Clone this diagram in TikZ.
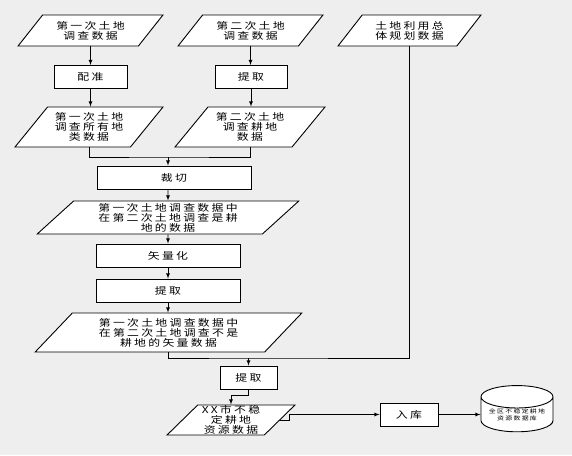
\documentclass[tikz,border=0pt]{standalone}
\usepackage{fontspec}
\newfontfamily\cjk[FakeStretch=1.25,LetterSpace=24]{Noto Sans CJK SC}
\usetikzlibrary{shapes.geometric}
\definecolor{bg}{HTML}{EEEEEE}

\begin{document}
\begin{tikzpicture}[x=1pt,y=-1pt,>=latex,
  data/.style={trapezium,trapezium left angle=47,trapezium right angle=133,
    trapezium stretches=true,draw,fill=white,line width=0.9pt,align=center,
    font=\cjk\fontsize{9.5}{10}\selectfont,inner sep=0pt},
  proc/.style={rectangle,draw,fill=white,line width=0.9pt,minimum height=23,
    font=\cjk\fontsize{9.5}{10}\selectfont,inner sep=0pt},
  store/.style={cylinder,shape border rotate=90,aspect=0.4,draw,fill=white,
    line width=0.9pt,align=center,font=\cjk\fontsize{5.5}{7}\selectfont,inner sep=0pt},
  line/.style={line width=0.8pt}]
  \fill[bg] (0,0) rectangle (572,455);
  \useasboundingbox (0,0) rectangle (572,455);

  % inputs
  \node[data,minimum width=145,minimum height=31] (srv1) at (90.5,30.5) {第一次土地\\调查数据};
  \node[data,minimum width=145,minimum height=31] (srv2) at (250.5,30.5) {第二次土地\\调查数据};
  \node[data,minimum width=143,minimum height=31] (plan) at (409.5,30.5) {土地利用总\\体规划数据};
  \node[proc,minimum width=73] (reg) at (90.5,77) {配准};
  \node[proc,minimum width=72] (ext1) at (251,77) {提取};
  \node[data,minimum width=148,minimum height=40] (all1) at (89,127) {第一次土地\\调查所有地\\类数据};
  \node[data,minimum width=150,minimum height=40] (arable2) at (250,127) {第二次土地\\调查耕地\\数据};

  % main column
  \node[proc,minimum width=154] (cut) at (174,177.5) {裁切};
  \node[data,minimum width=262,minimum height=33] (yes) at (168,217.5) {第一次土地调查数据中\\在第二次土地调查是耕\\地的数据};
  \node[proc,minimum width=144] (vec) at (168,255.5) {矢量化};
  \node[proc,minimum width=144] (ext2) at (168,290.5) {提取};
  \node[data,minimum width=267,minimum height=39] (no) at (168.5,332.5) {第一次土地调查数据中\\在第二次土地调查不是\\耕地的矢量数据};
  \node[proc,minimum width=57] (ext3) at (248.5,377.5) {提取};
  \node[data,minimum width=128,minimum height=30] (res) at (231,420) {XX市不稳\\定耕地\\资源数据};
  \node[proc,minimum width=58] (inlib) at (409,414.5) {入库};
  \node[store,minimum width=72,minimum height=43] (db) at (517,414.5) {全区不稳定耕地\\资源数据库};

  \coordinate (mrg) at (168,157);
  \coordinate (jn) at (248.5,358);

  \draw[line,->] (srv1.south) -- (srv1.south |- reg.north);
  \draw[line,->] (reg.south) -- (reg.south |- all1.north);
  \draw[line,->] (srv2.south) -- (srv2.south |- ext1.north);
  \draw[line,->] (ext1.south) -- (ext1.south |- arable2.north);
  \draw[line] (all1.south) |- (mrg) -| (arable2.south);
  \draw[line,->] (mrg) -- (mrg |- cut.north);
  \draw[line,->] (mrg |- cut.south) -- (yes.north);
  \draw[line,->] (yes.south) -- (vec.north);
  \draw[line,->] (vec.south) -- (ext2.north);
  \draw[line,->] (ext2.south) -- (ext2.south |- no.north);
  \draw[line] (no.south) |- (jn) -| (plan.south);
  \draw[line,->] (jn) -- (ext3.north);
  \draw[line,->] (ext3.south) -- ++(0,6) -| (res.north);
  \draw[line,->] (res.east) -- ++(9,0) |- (inlib.west);
  \draw[line,->] (inlib) -- (db);
\end{tikzpicture}
\end{document}
